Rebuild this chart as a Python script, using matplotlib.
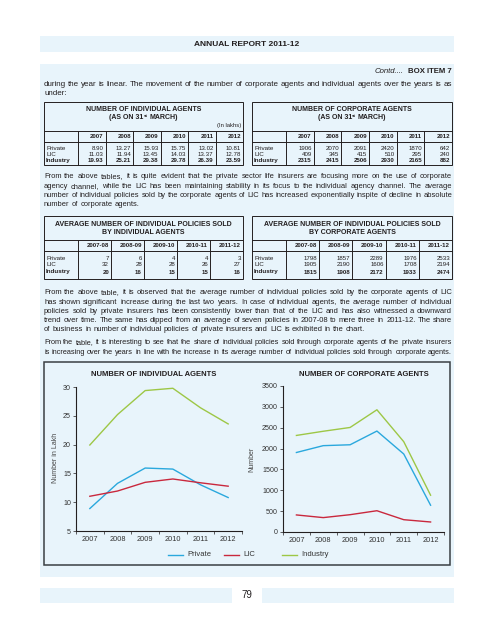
import numpy as np
import matplotlib.pyplot as plt
from matplotlib.patches import Rectangle

plt.rcParams['font.family'] = ['Liberation Sans', 'DejaVu Sans']

# ---- data ----
years = ['2007', '2008', '2009', '2010', '2011', '2012']
periods = ['2007-08', '2008-09', '2009-10', '2010-11', '2011-12']
series = ['Private', 'LIC', 'Industry']

ind_private = [8.90, 13.27, 15.93, 15.75, 13.02, 10.81]
ind_lic = [11.03, 11.94, 13.45, 14.03, 13.37, 12.78]
ind_industry = [19.93, 25.21, 29.38, 29.78, 26.39, 23.59]

corp_private = [1906, 2070, 2091, 2420, 1870, 642]
corp_lic = [409, 345, 415, 510, 295, 240]
corp_industry = [2315, 2415, 2506, 2930, 2165, 882]

avg_ind_private = [7, 6, 4, 4, 3]
avg_ind_lic = [32, 28, 28, 26, 27]
avg_ind_industry = [20, 16, 15, 15, 16]

avg_corp_private = [1798, 1857, 2289, 1976, 2533]
avg_corp_lic = [1905, 2190, 1606, 1708, 2194]
avg_corp_industry = [1815, 1908, 2172, 1933, 2474]

colors = ['#2aa8dd', '#c9283d', '#9dc746']
INK = '#231f20'
BAND = '#e8f4fb'

para1 = ["during the year is linear. The movement of the number of corporate agents and individual agents over the years is as",
         "under:"]
para2 = ["From the above tables, it is quite evident that the private sector life insurers are focusing more on the use of corporate",
         "agency channel, while the LIC has been maintaining stability in its focus to the individual agency channel. The average",
         "number of individual policies sold by the corporate agents of LIC has increased exponentially inspite of decline in absolute",
         "number of corporate agents."]
para3 = ["From the above table, it is observed that the average number of individual policies sold by the corporate agents of LIC",
         "has shown significant increase during the last two years. In case of individual agents, the average number of individual",
         "policies sold by private insurers has been consistently lower than that of the LIC and has also witnessed a downward",
         "trend over time. The same has dipped from an average of seven policies in 2007-08 to mere three in 2011-12. The share",
         "of business in number of individual policies of private insurers and LIC is exhibited in the chart."]
para4 = ["From the table, it is interesting to see that the share of individual policies sold through corporate agents of the private insurers",
         "is increasing over the years in line with the increase in its average number of individual policies sold through corporate agents."]

# ---- page ----
W, H = 494, 640
fig = plt.figure(figsize=(W / 100, H / 100), dpi=100)
page = fig.add_axes([0, 0, 1, 1])
page.set_xlim(0, W)
page.set_ylim(H, 0)
page.axis('off')
renderer = fig.canvas.get_renderer()

page.add_patch(Rectangle((40, 36), 414, 16, fc=BAND, ec='none'))
page.add_patch(Rectangle((40, 64), 414, 513, fc=BAND, ec='none'))
page.add_patch(Rectangle((40, 588), 192, 15, fc=BAND, ec='none'))
page.add_patch(Rectangle((262, 588), 192, 15, fc=BAND, ec='none'))
page.text(247, 44, 'ANNUAL REPORT 2011-12', ha='center', va='center', fontsize=6, weight='bold', color=INK)
page.text(247, 595.5, '79', ha='center', va='center', fontsize=7, color=INK)
page.text(452, 73, 'BOX ITEM 7', ha='right', va='baseline', fontsize=5.6, weight='bold', color=INK)
page.text(404, 73, 'Contd....', ha='right', va='baseline', fontsize=5.6, style='italic', color=INK)

cache = {}


def measure(s, fs, wt='normal'):
    key = (s, fs, wt)
    if key not in cache:
        t = page.text(0, 0, s, fontsize=fs, weight=wt)
        cache[key] = t.get_window_extent(renderer).width
        t.remove()
    return cache[key]


def space(fs, wt='normal'):
    return measure('a a', fs, wt) - measure('aa', fs, wt)


def fit_size(lines, fs=5.8, x0=44, x1=452):
    # largest size at which every full line still fits with near-normal spaces
    while fs > 4:
        ok = True
        for ln in lines:
            words = ln.split()
            free = x1 - x0 - sum(measure(w, fs) for w in words)
            if free < 0.85 * space(fs) * (len(words) - 1):
                ok = False
        if ok:
            break
        fs = round(fs - 0.05, 2)
    return fs


def justify(line, y, fs, last=False, x0=44, x1=452):
    words = line.split()
    ws = [measure(w, fs) for w in words]
    free = x1 - x0 - sum(ws)
    gap = space(fs) if last else free / (len(words) - 1)
    x = x0
    for w, wd in zip(words, ws):
        page.text(x, y, w, fontsize=fs, ha='left', va='baseline', color=INK)
        x += wd + gap


def paragraph(lines, y0, last_full=False):
    full = lines if last_full else lines[:-1]
    fs = fit_size(full)
    for i, ln in enumerate(lines):
        last = (i == len(lines) - 1) and not last_full
        justify(ln, y0 + 9.1 * i, fs, last=last)


paragraph(para1, 85.5)
paragraph(para2, 178.5)
paragraph(para3, 294.5)
paragraph(para4, 344.5, last_full=True)


def as_on_line(xc, y, fs=5.0):
    # "(AS ON 31st MARCH)" with a raised "st"
    a, b, c = '(AS ON 31', 'st', 'MARCH)'
    wa, wb, wc = measure(a, fs, 'bold'), measure(b, 3.2, 'bold'), measure(c, fs, 'bold')
    sp = space(fs, 'bold')
    x = xc - (wa + wb + sp + wc) / 2
    page.text(x, y, a, fontsize=fs, weight='bold', ha='left', va='baseline', color=INK)
    page.text(x + wa + 0.3, y - 2.2, b, fontsize=3.2, weight='bold', ha='left', va='baseline', color=INK)
    page.text(x + wa + wb + sp, y, c, fontsize=fs, weight='bold', ha='left', va='baseline', color=INK)


def table(x0, x1, top, bottom, title, title_ys, hl1, hl2, head_y, row_ys, cols, rows, fmt, note=None):
    lw = 0.7
    page.add_patch(Rectangle((x0, top), x1 - x0, bottom - top, fc='none', ec=INK, lw=lw))
    for s, y in zip(title, title_ys):
        if s == 'AS ON':
            as_on_line((x0 + x1) / 2, y + 1.8)
        else:
            page.text((x0 + x1) / 2, y + 1.8, s, ha='center', va='baseline', fontsize=5.0, weight='bold', color=INK)
    if note:
        page.text(x1 - 2, note, '(In lakhs)', ha='right', va='center', fontsize=4.2, color=INK)
    page.plot([x0, x1], [hl1, hl1], color=INK, lw=lw)
    page.plot([x0, x1], [hl2, hl2], color=INK, lw=lw)
    lab = x0 + 34
    cw = (x1 - lab) / len(cols)
    for i in range(len(cols)):
        xl = lab + i * cw
        page.plot([xl, xl], [hl1, bottom], color=INK, lw=lw)
        page.text(xl + cw - 2, head_y, cols[i], ha='right', va='center', fontsize=4.4, weight='bold', color=INK)
    for (name, vals), y in zip(rows, row_ys):
        wt = 'bold' if name == 'Industry' else 'normal'
        page.text(x0 + 2, y, name, ha='left', va='center', fontsize=4.5, weight=wt, color=INK)
        for i, v in enumerate(vals):
            page.text(lab + (i + 1) * cw - 2, y, fmt.format(v), ha='right', va='center',
                      fontsize=4.4, weight=wt, color=INK)


t1_ys = dict(top=102, bottom=165, title_ys=[109.5, 117.5], hl1=131, hl2=142, head_y=137, row_ys=[148.5, 154.5, 160.5])
table(44, 243, title=['NUMBER OF INDIVIDUAL AGENTS', 'AS ON'], cols=years,
      rows=list(zip(series, [ind_private, ind_lic, ind_industry])), fmt='{:.2f}', note=126, **t1_ys)
table(252, 452, title=['NUMBER OF CORPORATE AGENTS', 'AS ON'], cols=years,
      rows=list(zip(series, [corp_private, corp_lic, corp_industry])), fmt='{:d}', **t1_ys)
t2_ys = dict(top=216, bottom=279, title_ys=[224, 232], hl1=240, hl2=251, head_y=245.5, row_ys=[258, 265, 272])
table(44, 243, title=['AVERAGE NUMBER OF INDIVIDUAL POLICIES SOLD', 'BY INDIVIDUAL AGENTS'], cols=periods,
      rows=list(zip(series, [avg_ind_private, avg_ind_lic, avg_ind_industry])), fmt='{:d}', **t2_ys)
table(252, 452, title=['AVERAGE NUMBER OF INDIVIDUAL POLICIES SOLD', 'BY CORPORATE AGENTS'], cols=periods,
      rows=list(zip(series, [avg_corp_private, avg_corp_lic, avg_corp_industry])), fmt='{:d}', **t2_ys)

# ---- charts ----
page.add_patch(Rectangle((44, 362), 406, 203, fc='none', ec='#3a3f44', lw=1.1))
page.text(154, 375, 'NUMBER OF INDIVIDUAL AGENTS', ha='center', va='center', fontsize=5.5, weight='bold', color=INK)
page.text(364, 375, 'NUMBER OF CORPORATE AGENTS', ha='center', va='center', fontsize=5.5, weight='bold', color=INK)
page.text(55, 458, 'Number in Lakh', rotation=90, ha='center', va='center', fontsize=5, color='#444444')
page.text(252, 459, 'Number', rotation=90, ha='center', va='center', fontsize=5, color='#444444')


def chart(rect, data, ylim, step):
    ax = fig.add_axes([rect[0] / W, 1 - rect[3] / H, (rect[2] - rect[0]) / W, (rect[3] - rect[1]) / H])
    ax.patch.set_alpha(0)
    x = np.arange(len(years))
    for vals, c in zip(data, colors):
        ax.plot(x, vals, color=c, lw=1.0)
    ax.set_xlim(-0.5, len(years) - 0.5)
    ax.set_ylim(*ylim)
    ax.set_yticks(np.arange(ylim[0], ylim[1] + 1, step))
    ax.set_xticks(x)
    ax.set_xticklabels(years)
    ax.set_xticks(np.arange(-0.5, len(years)), minor=True)
    for s in ['top', 'right']:
        ax.spines[s].set_visible(False)
    for s in ['left', 'bottom']:
        ax.spines[s].set_color(INK)
        ax.spines[s].set_linewidth(0.8)
    ax.tick_params(axis='x', which='major', length=0, pad=3.5, labelsize=5.3, labelcolor='#333333')
    ax.tick_params(axis='x', which='minor', length=2, width=0.5, color=INK)
    ax.tick_params(axis='y', length=2, width=0.5, pad=1.5, labelsize=5.1, labelcolor='#333333', color=INK)
    return ax


chart((76, 387, 242, 531), [ind_private, ind_lic, ind_industry], (5, 30), 5)
chart((283, 386, 444, 532), [corp_private, corp_lic, corp_industry], (0, 3500), 500)

# legend
for xs, name, c in zip([168, 224, 282], series, colors):
    page.plot([xs, xs + 15], [555, 555], color=c, lw=1.0)
    page.text(xs + 19, 555, name, ha='left', va='center', fontsize=5.5, color='#333333')

fig.savefig('out.png', dpi=100)
